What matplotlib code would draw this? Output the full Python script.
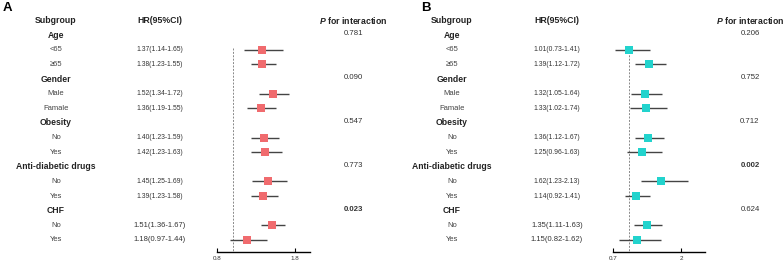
import matplotlib
matplotlib.use("Agg")
import matplotlib.pyplot as plt
from matplotlib.transforms import blended_transform_factory

plt.rcParams['font.family'] = ['Liberation Sans', 'DejaVu Sans']
plt.rcParams['mathtext.fontset'] = 'custom'
plt.rcParams['mathtext.it'] = 'Liberation Sans:italic:bold'
plt.rcParams['mathtext.rm'] = 'Liberation Sans'

groups = ["Age", "Gender", "Obesity", "Anti-diabetic drugs", "CHF"]
subitems = [["<65", "≥65"], ["Male", "Famale"], ["No", "Yes"], ["No", "Yes"], ["No", "Yes"]]

# Panel A
a_hr = [1.37, 1.38, 1.52, 1.36, 1.40, 1.42, 1.45, 1.39, 1.51, 1.18]
a_lo = [1.14, 1.23, 1.34, 1.19, 1.23, 1.23, 1.25, 1.23, 1.36, 0.97]
a_hi = [1.65, 1.55, 1.72, 1.55, 1.59, 1.63, 1.69, 1.58, 1.67, 1.44]
a_p = ["0.781", "0.090", "0.547", "0.773", "0.023"]
a_pbold = [False, False, False, False, True]
a_ticks = [0.8, 1.8]

# Panel B
b_hr = [1.01, 1.39, 1.32, 1.33, 1.36, 1.25, 1.62, 1.14, 1.35, 1.15]
b_lo = [0.73, 1.12, 1.05, 1.02, 1.12, 0.96, 1.23, 0.92, 1.11, 0.82]
b_hi = [1.41, 1.72, 1.64, 1.74, 1.67, 1.63, 2.13, 1.41, 1.63, 1.62]
b_p = ["0.206", "0.752", "0.712", "0.002", "0.624"]
b_pbold = [False, False, False, True, False]
b_ticks = [0.7, 2]

W, H = 784, 265
fig = plt.figure(figsize=(W / 100, H / 100), dpi=100)

row0_px = 20.5
row_step = 14.63
axis_px = 252
ybottom = (axis_px - row0_px) / row_step


def fy(px):
    return 1 - px / H


def panel(letter, letter_x, ax_left_px, ax_right_px, xlim, ticks, hr, lo, hi, pvals, pbold,
          color, cx_sub, cx_hr, cx_p):
    ax = fig.add_axes([ax_left_px / W, fy(axis_px), (ax_right_px - ax_left_px) / W,
                       (axis_px - row0_px) / H])
    ax.set_xlim(*xlim)
    ax.set_ylim(ybottom, 0)
    for s in ["top", "right", "left"]:
        ax.spines[s].set_visible(False)
    ax.spines["bottom"].set_linewidth(1.0)
    ax.set_yticks([])
    ax.set_xticks(ticks)
    ax.set_xticklabels([str(t) for t in ticks], fontsize=4.5, color="#333333")
    ax.tick_params(axis="x", direction="in", length=3, width=0.8, pad=3)
    ax.vlines(1.0, 1.9, ybottom, colors="#888888", linestyles=(0, (2, 1.5)), linewidth=0.7)

    tr = blended_transform_factory(fig.transFigure, ax.transData)
    fig.text(letter_x / W, fy(8), letter, fontsize=9.5, fontweight="bold", va="center", ha="left")
    kw = dict(transform=tr, va="center", ha="center", clip_on=False)
    ax.text(cx_sub / W, 0, "Subgroup", fontsize=6.3, fontweight="bold", color="#222222", **kw)
    ax.text(cx_hr / W, 0, "HR(95%CI)", fontsize=6.3, fontweight="bold", color="#222222", **kw)
    ax.text(cx_p / W, 0, "$\\mathit{P}$ for interaction", fontsize=6.3, fontweight="bold",
            color="#222222", **kw)

    row = 1
    k = 0
    for gi, g in enumerate(groups):
        ax.text(cx_sub / W, row, g, fontsize=6.2, fontweight="bold", color="#222222", **kw)
        ax.text(cx_p / W, row - 0.1, pvals[gi], fontsize=5.6,
                fontweight="bold" if pbold[gi] else "normal", color="#333333", **kw)
        row += 1
        for si, s in enumerate(subitems[gi]):
            big = gi == len(groups) - 1
            ax.text(cx_sub / W, row, s, fontsize=5.5, color="#444444", **kw)
            ax.text(cx_hr / W, row, f"{hr[k]:.2f}({lo[k]:.2f}-{hi[k]:.2f})",
                    fontsize=5.5 if big else 4.9, color="#333333", **kw)
            ax.hlines(row, lo[k], hi[k], colors="#444444", linewidth=1.0, zorder=2)
            ax.plot(hr[k], row, marker="s", markersize=5.8, color=color,
                    markeredgewidth=0, zorder=3, clip_on=False)
            row += 1
            k += 1
    return ax


panel("A", 3, 217, 310, (0.8, 1.99), a_ticks, a_hr, a_lo, a_hi, a_p, a_pbold,
      "#F06B6E", 56, 160, 353)
panel("B", 421, 613, 705, (0.7, 2.46), b_ticks, b_hr, b_lo, b_hi, b_p, b_pbold,
      "#22D3CD", 452, 557, 750)

fig.savefig("out.png", dpi=100)
